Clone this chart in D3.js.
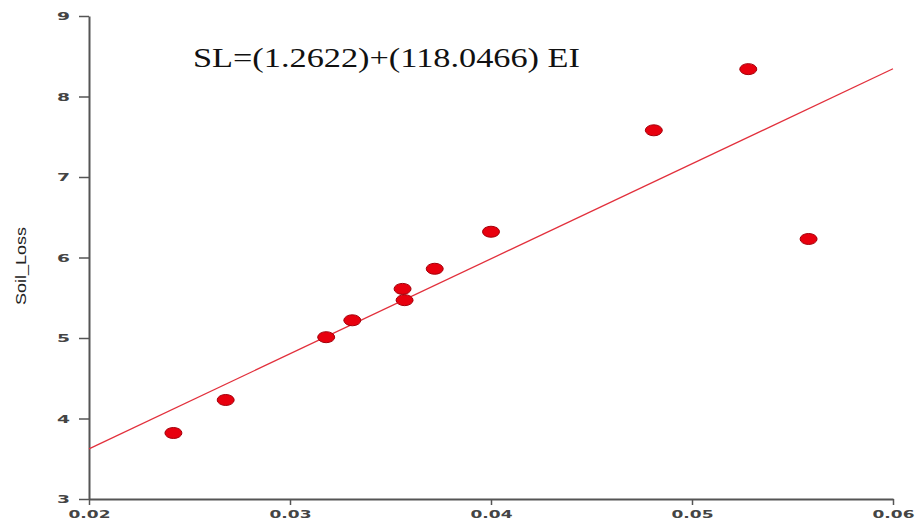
<!DOCTYPE html>
<html>
<head>
<meta charset="utf-8">
<script src="https://cdn.jsdelivr.net/npm/d3@7"></script>
<style>
  html, body { margin: 0; padding: 0; background: #fff; }
  svg { display: block; }
</style>
</head>
<body>
<div id="chart"></div>
<script>
// data
let eiValues = [0.0242, 0.0268, 0.0318, 0.0331, 0.0356, 0.0357, 0.0372, 0.0400, 0.0481, 0.0528, 0.0558];
let soilLoss = [3.82, 4.23, 5.01, 5.22, 5.61, 5.47, 5.86, 6.32, 7.58, 8.34, 6.23];
let xTicks = [0.02, 0.03, 0.04, 0.05, 0.06];
let yTicks = [3, 4, 5, 6, 7, 8, 9];
let intercept = 1.2622;
let slope = 118.0466;
let equationText = "SL=(1.2622)+(118.0466) EI";
let yLabel = "Soil_Loss";

let width = 919,
    height = 525;

let points = eiValues.map((x, i) => ({ x: x, y: soilLoss[i] }));

let svg = d3.select("#chart")
    .append("svg")
    .attr("width", width)
    .attr("height", height);

let x = d3.scaleLinear().domain([0.02, 0.06]).range([89, 893]);
let y = d3.scaleLinear().domain([3, 9]).range([499, 16]);

let axisColor = "#555";

// x axis
let gx = svg.append("g")
    .attr("transform", `translate(0,${y(3)})`)
    .call(d3.axisBottom(x)
        .tickValues(xTicks)
        .tickFormat(d3.format(".2f"))
        .tickSize(6)
        .tickSizeOuter(0)
        .tickPadding(5));

// y axis
let gy = svg.append("g")
    .attr("transform", `translate(${x(0.02)},0)`)
    .call(d3.axisLeft(y)
        .tickValues(yTicks)
        .tickFormat(d3.format("d"))
        .tickSize(10)
        .tickSizeOuter(0)
        .tickPadding(9));

[gx, gy].forEach(g => {
    g.select(".domain").attr("stroke", axisColor).attr("stroke-width", 2);
    g.selectAll(".tick line").attr("stroke", axisColor).attr("stroke-width", 1.5);
    g.selectAll(".tick text")
        .attr("fill", "#444")
        .style("font-family", "DejaVu Sans, sans-serif")
        .style("font-weight", "bold")
        .style("font-size", "11px")
        .attr("lengthAdjust", "spacingAndGlyphs");
});
gx.selectAll(".tick text").attr("textLength", 42);
gy.selectAll(".tick text").attr("textLength", 13);

// regression line
let fit = (v) => intercept + slope * v;
svg.append("line")
    .attr("x1", x(0.02))
    .attr("y1", y(fit(0.02)))
    .attr("x2", x(0.06))
    .attr("y2", y(fit(0.06)))
    .attr("stroke", "#e2303c")
    .attr("stroke-width", 1.3);

// points
svg.append("g")
    .selectAll("ellipse")
    .data(points)
    .enter().append("ellipse")
    .attr("cx", d => x(d.x))
    .attr("cy", d => y(d.y))
    .attr("rx", 8.5)
    .attr("ry", 5.5)
    .attr("fill", "#e8000e")
    .attr("stroke", "#a3000a")
    .attr("stroke-width", 1);

// equation
svg.append("text")
    .attr("x", 193)
    .attr("y", 67)
    .attr("textLength", 387)
    .attr("lengthAdjust", "spacingAndGlyphs")
    .style("font-family", "Liberation Serif, Times New Roman, serif")
    .style("font-size", "27px")
    .attr("fill", "#111")
    .text(equationText);

// y axis title
svg.append("text")
    .attr("transform", "translate(26,266) rotate(-90)")
    .attr("text-anchor", "middle")
    .attr("textLength", 78)
    .attr("lengthAdjust", "spacingAndGlyphs")
    .style("font-family", "Liberation Sans, Arial, sans-serif")
    .style("font-size", "15px")
    .attr("fill", "#222")
    .text(yLabel);
</script>
</body>
</html>
